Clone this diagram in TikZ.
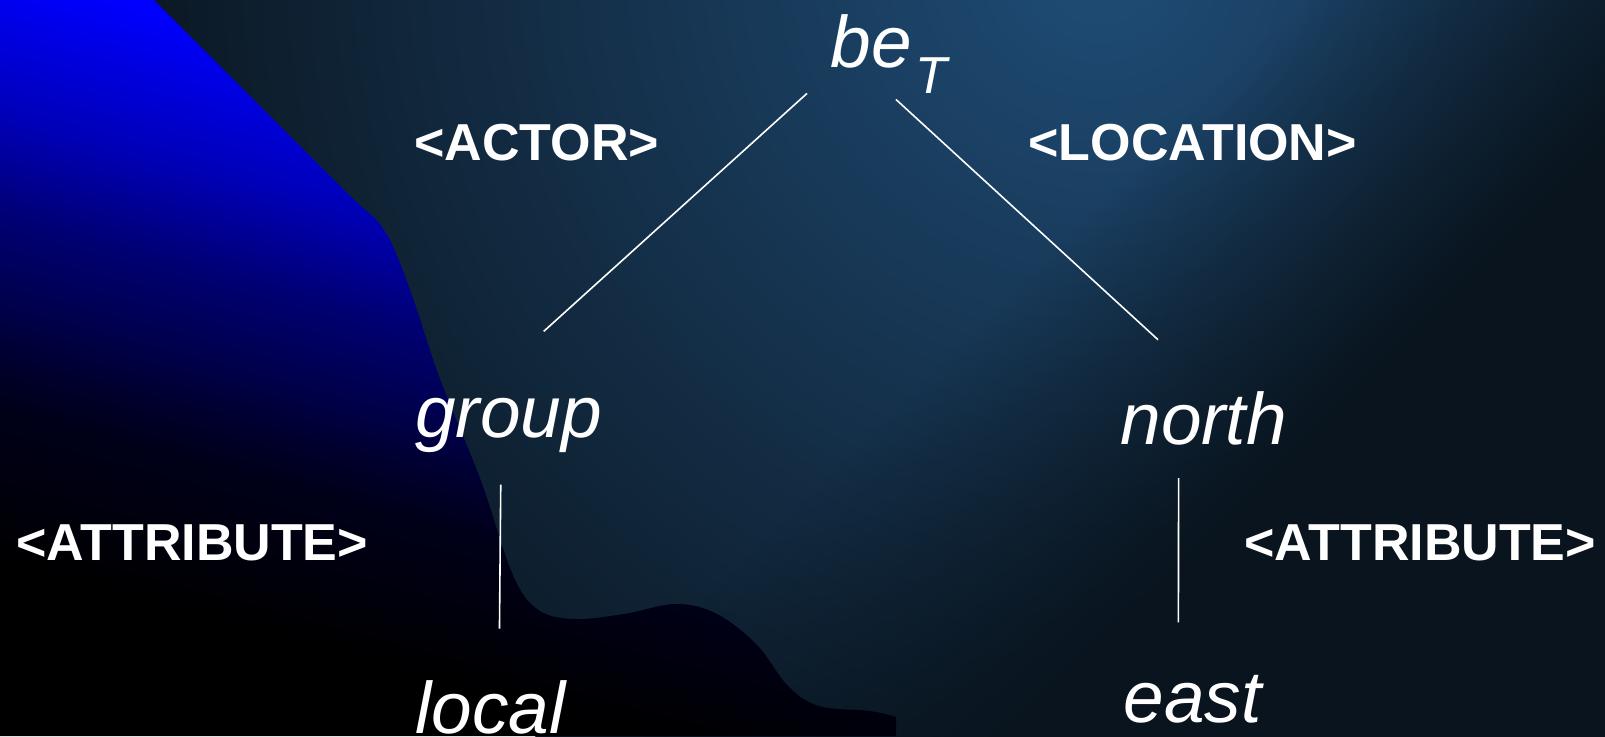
\documentclass[tikz,border=0pt]{standalone}
\usepackage{fontspec}
\setmainfont{Liberation Sans}
\usetikzlibrary{positioning,fadings}
\definecolor{bgbase}{HTML}{0B1824}
\definecolor{bgglow}{HTML}{1F4C76}
\definecolor{bgdark}{HTML}{09141E}
\pgfdeclareverticalshading{blobfade}{100bp}{rgb(0bp)=(0,0,0); rgb(30bp)=(0,0,0); rgb(33bp)=(0,0,0.03); rgb(40bp)=(0,0,0.1); rgb(43bp)=(0,0,0.18); rgb(46bp)=(0,0,0.28); rgb(52bp)=(0,0,0.45); rgb(58.4bp)=(0,0,0.72); rgb(67.7bp)=(0,0,1); rgb(100bp)=(0,0,1)}
\pgfdeclarehorizontalshading{cornerramp}{100bp}{rgb(0bp)=(0,0,0); rgb(45bp)=(0,0,0); rgb(55bp)=(1,1,1); rgb(100bp)=(1,1,1)}
\pgfdeclarefading{cornerfade}{\pgfuseshading{cornerramp}}

\begin{document}
\begin{tikzpicture}
[x=0.5pt,y=-0.5pt,
 word/.style={inner sep=0,anchor=base west,text=white,font=\fontsize{36.5}{40}\selectfont\itshape},
 role/.style={inner sep=0,anchor=base west,text=white,font=\fontsize{26}{30}\selectfont\bfseries},
 link/.style={draw=white,line width=0.8pt}]

  \useasboundingbox (0,0) rectangle (1605,736);
  % background
  \begin{scope}
    \clip (0,0) rectangle (1605,736);
    \fill [bgbase] (0,0) rectangle (1605,736);
    \shade [inner color=bgglow, outer color=bgbase] (1100,-40) circle (960);
    \fill [bgdark, path fading=cornerfade, fading angle=-45] (650,-720) rectangle (2250,880);
    \shade [shading=blobfade, shading angle=-15] (0,0) -- plot [smooth, tension=0.6] coordinates {(154,0) (256,102) (348,194) (384,230) (409,287) (440,379) (481,481) (512,573) (537,609) (573,619) (624,614) (676,604) (717,614) (757,645) (788,686) (819,706) (870,711) (896,717)} -- (896,736) -- (0,736) -- cycle;
  \end{scope}

  \node (be) [word] at (830,67) {be\kern2pt\raisebox{-13pt}{\fontsize{26}{26}\selectfont T}};
  \node (group) [word] at (415,437) {group};
  \node (north) [word] at (1120,444) {north};
  \node (local) [word] at (415,733) {local};
  \node (east) [word] at (1123,722) {east};

  \node (actor) [role] at (414,160) {<ACTOR>};
  \node (location) [role] at (1028,160) {<LOCATION>};
  \node (attrleft) [role] at (16,560) {<ATTRIBUTE>};
  \node (attrright) [role] at (1244,560) {<ATTRIBUTE>};

  \draw [link] ([xshift=-11.5pt]be.south west) -- ([xshift=17.5pt,yshift=33pt]group.north);
  \draw [link] ([xshift=3.5pt,yshift=-3pt]be.south) -- ([xshift=19pt,yshift=25.5pt]north.north west);
  \draw [link] ([xshift=-4pt,yshift=-16pt]group.south) -- ([xshift=4.5pt,yshift=25.5pt]local.north);
  \draw [link] ([xshift=-12.5pt,yshift=-16.5pt]north.south) -- ([xshift=-7pt,yshift=26pt]east.north);

\end{tikzpicture}
\end{document}
